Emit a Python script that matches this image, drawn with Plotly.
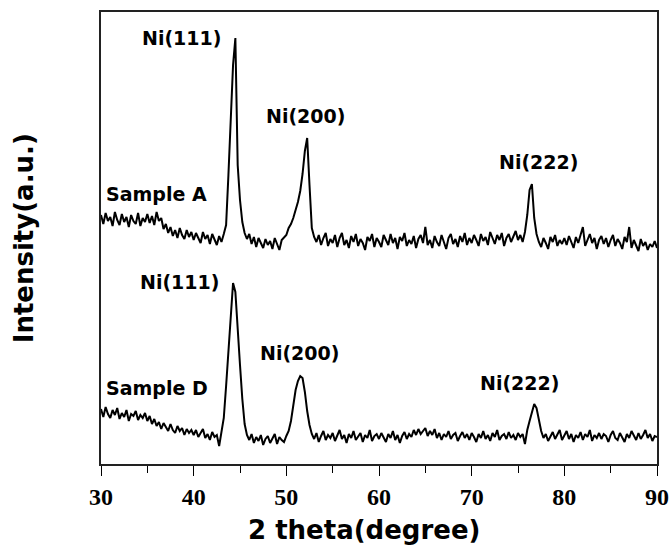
import numpy as np
import plotly.graph_objects as go

# 2-theta scan grid (degrees): 30.00 .. 90.00 in 0.25 steps
THETA_START, THETA_STEP, N_POINTS = 30.0, 0.25, 241
two_theta = [round(THETA_START + THETA_STEP * i, 2) for i in range(N_POINTS)]

# Intensity (a.u.), Sample A (upper pattern)
sample_a = [
    249, 240, 251, 243, 247, 238, 252, 244, 239, 250, 242, 247, 237, 249, 243, 240, 251, 238, 246, 242,
    250, 241, 248, 239, 252, 243, 246, 235, 240, 231, 237, 228, 234, 226, 236, 229, 225, 234, 227, 232,
    224, 231, 226, 221, 232, 225, 229, 220, 230, 224, 219, 228, 222, 230, 239, 289, 354, 399, 426, 299,
    264, 242, 231, 225, 230, 220, 227, 217, 226, 221, 216, 225, 219, 223, 215, 226, 220, 214, 224, 227,
    229, 236, 240, 246, 253, 262, 273, 290, 313, 326, 279, 236, 227, 222, 229, 219, 226, 231, 218, 225,
    221, 229, 217, 226, 231, 219, 224, 216, 228, 222, 230, 218, 225, 221, 214, 227, 223, 230, 217, 226,
    222, 217, 229, 224, 219, 230, 221, 226, 215, 227, 223, 231, 218, 224, 220, 228, 216, 225, 229, 221,
    237, 219, 224, 216, 228, 222, 218, 229, 223, 215, 226, 230, 220, 225, 217, 228, 222, 231, 219, 226,
    221, 229, 224, 218, 230, 223, 227, 219, 232, 225, 220, 229, 224, 231, 218, 226, 230, 222, 227, 233,
    224, 229, 222, 232, 249, 274, 280, 246, 230, 222, 217, 226, 221, 215, 227, 222, 229, 218, 224, 220,
    226, 219, 228, 222, 216, 227, 221, 229, 237, 218, 225, 230, 221, 226, 215, 224, 228, 220, 226, 217,
    224, 229, 218, 225, 221, 215, 227, 222, 237, 216, 224, 219, 213, 225, 218, 222, 214, 220, 217, 223,
    216,
]

# Intensity (a.u.), Sample D (lower pattern)
sample_d = [
    55, 47, 57, 50, 46, 54, 49, 56, 45, 51, 47, 54, 43, 50, 48, 53, 44, 49, 46, 51,
    43, 48, 40, 45, 38, 42, 35, 41, 37, 33, 40, 34, 31, 38, 33, 36, 29, 35, 31, 34,
    29, 34, 27, 31, 35, 26, 30, 24, 32, 27, 29, 18, 31, 46, 78, 112, 151, 181, 172, 130,
    99, 65, 40, 29, 24, 30, 21, 27, 23, 29, 19, 25, 28, 21, 26, 30, 20, 27, 24, 22,
    28, 33, 43, 58, 74, 83, 88, 86, 72, 53, 39, 30, 25, 31, 22, 28, 33, 24, 29, 26,
    31, 23, 28, 34, 25, 29, 21, 30, 26, 33, 24, 28, 31, 22, 29, 26, 34, 23, 28, 30,
    25, 31, 27, 22, 30, 26, 33, 24, 29, 21, 28, 32, 25, 30, 27, 34, 29, 35, 30, 33,
    36, 28, 33, 29, 35, 26, 31, 24, 30, 27, 33, 25, 29, 31, 23, 28, 32, 26, 30, 24,
    31, 27, 22, 30, 26, 33, 25, 29, 23, 31, 27, 34, 24, 28, 30, 25, 32, 26, 29, 24,
    31, 27, 30, 20, 34, 43, 51, 60, 56, 44, 33, 26, 30, 23, 28, 32, 25, 29, 34, 24,
    28, 33, 25, 30, 22, 29, 26, 32, 24, 30, 27, 34, 23, 29, 26, 31, 25, 30, 28, 22,
    29, 33, 26, 24, 31, 27, 22, 30, 26, 33, 28, 24, 31, 25, 29, 34, 26, 30, 23, 28,
    27,
]

# Text labels
peak_labels = ["Ni(111)", "Ni(200)", "Ni(222)"]
sample_names = ["Sample A", "Sample D"]
x_ticks = [30, 40, 50, 60, 70, 80, 90]

LABEL_FONT = dict(family="DejaVu Sans", size=19, color="black", weight="bold")
TITLE_FONT = dict(family="DejaVu Sans", size=26, color="black", weight="bold")

fig = go.Figure()
for name, ys in zip(sample_names, [sample_a, sample_d]):
    fig.add_trace(go.Scatter(x=two_theta, y=ys, mode="lines", name=name,
                             line=dict(color="black", width=2.0), showlegend=False))

annotations = []
pos_a = [(38.74, 426), (52.12, 348), (77.16, 302)]
pos_d = [(38.42, 182), (51.37, 111), (75.11, 81)]
for txt, (x, y) in zip(peak_labels, pos_a):
    annotations.append(dict(x=x, y=y, text=txt, showarrow=False, font=LABEL_FONT,
                            xanchor="center", yanchor="middle"))
for txt, (x, y) in zip(peak_labels, pos_d):
    annotations.append(dict(x=x, y=y, text=txt, showarrow=False, font=LABEL_FONT,
                            xanchor="center", yanchor="middle"))
for txt, (x, y) in zip(sample_names, [(35.94, 270), (36.04, 76)]):
    annotations.append(dict(x=x, y=y, text=txt, showarrow=False, font=LABEL_FONT,
                            xanchor="center", yanchor="middle"))
annotations.append(dict(xref="paper", yref="paper", x=0.473, y=-0.146,
                        text="2 theta(degree)", showarrow=False, font=TITLE_FONT,
                        xanchor="center", yanchor="middle"))
annotations.append(dict(xref="paper", yref="paper", x=-0.137, y=0.499,
                        text="Intensity(a.u.)", showarrow=False, font=TITLE_FONT,
                        textangle=-90, xanchor="center", yanchor="middle"))

fig.update_layout(
    width=670, height=554,
    margin=dict(l=101, r=13, t=12, b=90, pad=0, autoexpand=False),
    paper_bgcolor="white", plot_bgcolor="white",
    annotations=annotations,
)
fig.update_xaxes(
    range=[30, 90], tickvals=x_ticks, ticktext=[str(v) for v in x_ticks],
    automargin=False, mirror=True,
    showgrid=False, zeroline=False, showline=True, linecolor="#222222", linewidth=1.5,
    ticks="outside", ticklen=10, tickwidth=1.4, tickcolor="black",
    tickfont=dict(family="Liberation Serif", size=24, color="black", weight="bold"),
    minor=dict(tickvals=[35, 45, 55, 65, 75, 85], ticks="outside", ticklen=7,
               tickwidth=1.4, tickcolor="black"),
)
fig.update_yaxes(
    range=[0, 452], showticklabels=False, ticks="", showgrid=False, zeroline=False,
    showline=True, linecolor="#222222", linewidth=1.5, automargin=False, mirror=True,
)

fig.write_html("out.html", config={"displayModeBar": False},
               post_script="document.body.style.margin='0px';document.body.style.overflow='hidden';")
